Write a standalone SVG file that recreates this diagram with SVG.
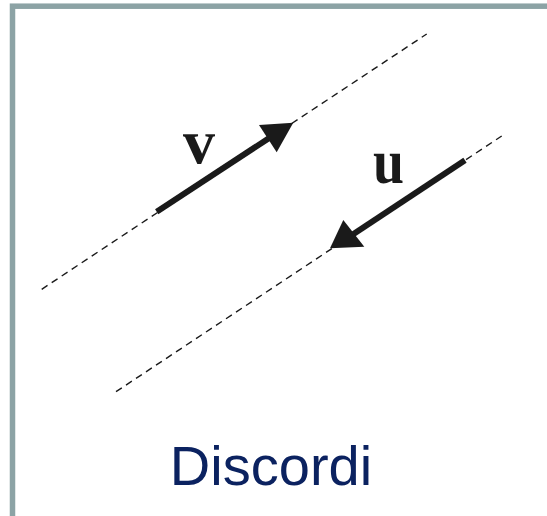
<svg xmlns="http://www.w3.org/2000/svg" width="547" height="516" viewBox="0 0 547 516">
<style>
.frame{fill:none;stroke:#8ca3a5;stroke-width:5.5}
.dash{stroke:#1a1a1a;stroke-width:1.4;stroke-dasharray:7 5;fill:none}
.shaft{stroke:#1a1a1a;stroke-width:6;fill:none}
.head{fill:#1a1a1a}
.lbl{font-family:"Liberation Serif","Times New Roman",serif;font-weight:bold;font-size:64px;fill:#1a1a1a}
.title{font-family:"Liberation Sans",Arial,sans-serif;font-size:56px;fill:#0b2260}
</style>
<rect class="frame" x="12.5" y="6.2" width="560" height="540"/>
<g id="connectors">
<line class="dash" x1="41.7" y1="289.3" x2="426.7" y2="34"/>
<line class="dash" x1="116" y1="391.7" x2="501.7" y2="136"/>
</g>
<g id="v">
<line class="shaft" x1="156.7" y1="211.7" x2="270" y2="137.5"/>
<polygon class="head" points="293.3,122.7 259,125 276.7,152.3"/>
<text class="lbl" x="183" y="162.5">v</text>
</g>
<g id="u">
<line class="shaft" x1="465" y1="160.3" x2="352" y2="235"/>
<polygon class="head" points="330,248.3 343.3,220 364.3,246.7"/>
<text class="lbl" x="373" y="182.7" textLength="31" lengthAdjust="spacingAndGlyphs">u</text>
</g>
<g id="title">
<text class="title" x="271" y="485" text-anchor="middle">Discordi</text>
</g>
</svg>
